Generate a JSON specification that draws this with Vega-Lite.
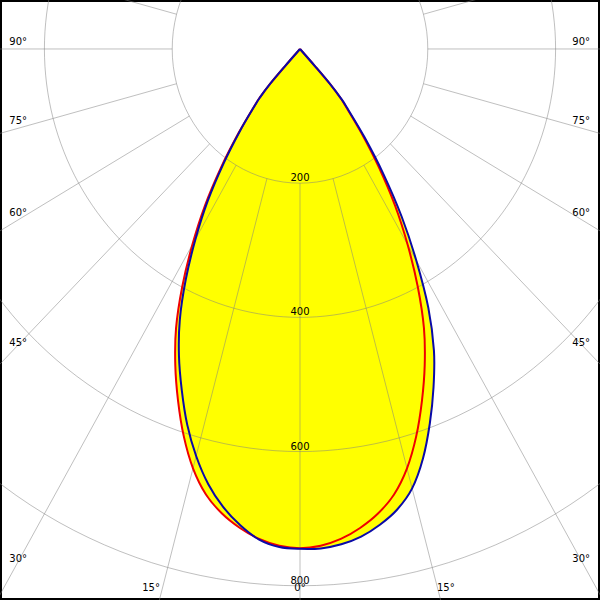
{
  "$schema": "https://vega.github.io/schema/vega-lite/v6.json",
  "width": 600,
  "height": 600,
  "autosize": {"type": "none"},
  "padding": 0,
  "background": "white",
  "config": {"view": {"stroke": "black", "strokeWidth": 4}},
  "datasets": {
    "curves": [
      {"p": "C0-C180", "a": -43, "I": 0}, {"p": "C0-C180", "a": -42.5, "I": 35}, {"p": "C0-C180", "a": -42, "I": 70}, {"p": "C0-C180", "a": -41, "I": 96}, {"p": "C0-C180", "a": -40, "I": 111}, {"p": "C0-C180", "a": -37.5, "I": 158}, {"p": "C0-C180", "a": -35, "I": 215}, {"p": "C0-C180", "a": -32.5, "I": 277}, {"p": "C0-C180", "a": -30, "I": 337}, {"p": "C0-C180", "a": -27.5, "I": 399}, {"p": "C0-C180", "a": -25, "I": 459}, {"p": "C0-C180", "a": -22.5, "I": 510}, {"p": "C0-C180", "a": -20, "I": 558}, {"p": "C0-C180", "a": -17.5, "I": 605}, {"p": "C0-C180", "a": -15, "I": 647}, {"p": "C0-C180", "a": -12.5, "I": 680}, {"p": "C0-C180", "a": -10, "I": 703}, {"p": "C0-C180", "a": -7.5, "I": 720}, {"p": "C0-C180", "a": -5, "I": 733}, {"p": "C0-C180", "a": -2.5, "I": 741}, {"p": "C0-C180", "a": 0, "I": 744},
      {"p": "C0-C180", "a": 2.5, "I": 741}, {"p": "C0-C180", "a": 5, "I": 733}, {"p": "C0-C180", "a": 7.5, "I": 720}, {"p": "C0-C180", "a": 10, "I": 703}, {"p": "C0-C180", "a": 12.5, "I": 680}, {"p": "C0-C180", "a": 15, "I": 647}, {"p": "C0-C180", "a": 17.5, "I": 605}, {"p": "C0-C180", "a": 20, "I": 558}, {"p": "C0-C180", "a": 22.5, "I": 510}, {"p": "C0-C180", "a": 25, "I": 459}, {"p": "C0-C180", "a": 27.5, "I": 399}, {"p": "C0-C180", "a": 30, "I": 337}, {"p": "C0-C180", "a": 32.5, "I": 277}, {"p": "C0-C180", "a": 35, "I": 215}, {"p": "C0-C180", "a": 37.5, "I": 158}, {"p": "C0-C180", "a": 40, "I": 111}, {"p": "C0-C180", "a": 41, "I": 96}, {"p": "C0-C180", "a": 42, "I": 70}, {"p": "C0-C180", "a": 42.5, "I": 35}, {"p": "C0-C180", "a": 43, "I": 0},
      {"p": "C90-C270", "a": -43, "I": 0}, {"p": "C90-C270", "a": -42.5, "I": 35}, {"p": "C90-C270", "a": -42, "I": 70}, {"p": "C90-C270", "a": -41, "I": 95}, {"p": "C90-C270", "a": -40, "I": 110}, {"p": "C90-C270", "a": -37.5, "I": 155}, {"p": "C90-C270", "a": -35, "I": 209}, {"p": "C90-C270", "a": -32.5, "I": 269}, {"p": "C90-C270", "a": -30, "I": 327}, {"p": "C90-C270", "a": -27.5, "I": 387}, {"p": "C90-C270", "a": -25, "I": 445}, {"p": "C90-C270", "a": -22.5, "I": 495}, {"p": "C90-C270", "a": -20, "I": 541}, {"p": "C90-C270", "a": -17.5, "I": 587}, {"p": "C90-C270", "a": -15, "I": 628}, {"p": "C90-C270", "a": -12.5, "I": 664}, {"p": "C90-C270", "a": -10, "I": 693}, {"p": "C90-C270", "a": -7.5, "I": 716}, {"p": "C90-C270", "a": -5, "I": 734}, {"p": "C90-C270", "a": -2.5, "I": 743}, {"p": "C90-C270", "a": 0, "I": 745},
      {"p": "C90-C270", "a": 2.5, "I": 745}, {"p": "C90-C270", "a": 5, "I": 741}, {"p": "C90-C270", "a": 7.5, "I": 733}, {"p": "C90-C270", "a": 10, "I": 720}, {"p": "C90-C270", "a": 12.5, "I": 703}, {"p": "C90-C270", "a": 15, "I": 678}, {"p": "C90-C270", "a": 17.5, "I": 640}, {"p": "C90-C270", "a": 20, "I": 594}, {"p": "C90-C270", "a": 22.5, "I": 546}, {"p": "C90-C270", "a": 25, "I": 496}, {"p": "C90-C270", "a": 27.5, "I": 435}, {"p": "C90-C270", "a": 30, "I": 364}, {"p": "C90-C270", "a": 32.5, "I": 296}, {"p": "C90-C270", "a": 35, "I": 228}, {"p": "C90-C270", "a": 37.5, "I": 166}, {"p": "C90-C270", "a": 40, "I": 115}, {"p": "C90-C270", "a": 41, "I": 99}, {"p": "C90-C270", "a": 42, "I": 71}, {"p": "C90-C270", "a": 42.5, "I": 36}, {"p": "C90-C270", "a": 43, "I": 0}
    ],
    "angles": [
      {"a": 0, "rs": [200, 400, 600, 800]}, {"a": 15, "rs": [200, 400, 600, 800]}, {"a": 30, "rs": [200, 400, 600, 800]}, {"a": 45, "rs": [200, 400, 600, 800]}, {"a": 60, "rs": [200, 400, 600, 800]}, {"a": 75, "rs": [200, 400, 600, 800]}, {"a": 90, "rs": [200, 400, 600, 800]}, {"a": 105, "rs": [200, 400, 600, 800]}, {"a": 120, "rs": [200, 400, 600, 800]}, {"a": 135, "rs": [200, 400, 600, 800]}, {"a": 150, "rs": [200, 400, 600, 800]}, {"a": 165, "rs": [200, 400, 600, 800]}, {"a": 180, "rs": [200, 400, 600, 800]}, {"a": 195, "rs": [200, 400, 600, 800]}, {"a": 210, "rs": [200, 400, 600, 800]}, {"a": 225, "rs": [200, 400, 600, 800]}, {"a": 240, "rs": [200, 400, 600, 800]}, {"a": 255, "rs": [200, 400, 600, 800]}, {"a": 270, "rs": [200, 400, 600, 800]}, {"a": 285, "rs": [200, 400, 600, 800]}, {"a": 300, "rs": [200, 400, 600, 800]}, {"a": 315, "rs": [200, 400, 600, 800]}, {"a": 330, "rs": [200, 400, 600, 800]}, {"a": 345, "rs": [200, 400, 600, 800]}
    ],
    "rings": [
      {"t": "200", "v": 200}, {"t": "400", "v": 400}, {"t": "600", "v": 600}, {"t": "800", "v": 800}
    ],
    "angleLabels": [
      {"t": "90°", "a": -90}, {"t": "75°", "a": -75}, {"t": "60°", "a": -60}, {"t": "45°", "a": -45}, {"t": "30°", "a": -30}, {"t": "15°", "a": -15}, {"t": "0°", "a": 0}, {"t": "15°", "a": 15}, {"t": "30°", "a": 30}, {"t": "45°", "a": 45}, {"t": "60°", "a": 60}, {"t": "75°", "a": 75}, {"t": "90°", "a": 90}
    ]
  },
  "layer": [
    {
      "data": {"name": "curves"},
      "transform": [
        {"calculate": "datum.I * sin(datum.a * PI / 180)", "as": "x"},
        {"calculate": "datum.I * cos(datum.a * PI / 180)", "as": "y"}
      ],
      "mark": {"type": "line", "filled": true, "fill": "#ffff00", "strokeWidth": 0, "interpolate": "cardinal", "clip": true},
      "encoding": {
        "x": {"field": "x", "type": "quantitative", "scale": {"domain": [-469.5, 469.5], "nice": false, "zero": false}, "axis": null},
        "y": {"field": "y", "type": "quantitative", "scale": {"domain": [-73, 821.2], "reverse": true, "nice": false, "zero": false}, "axis": null},
        "detail": {"field": "p"},
        "order": {"field": "a", "type": "quantitative"}
      }
    },
    {
      "data": {"name": "angles"},
      "transform": [
        {"flatten": ["rs"], "as": ["r"]},
        {"calculate": "datum.r * sin(datum.a * PI / 180)", "as": "x"},
        {"calculate": "datum.r * cos(datum.a * PI / 180)", "as": "y"}
      ],
      "mark": {"type": "line", "interpolate": "cardinal-closed", "stroke": "#808080", "strokeOpacity": 0.5, "strokeWidth": 1, "clip": true},
      "encoding": {
        "x": {"field": "x", "type": "quantitative", "scale": {"domain": [-469.5, 469.5], "nice": false, "zero": false}, "axis": null},
        "y": {"field": "y", "type": "quantitative", "scale": {"domain": [-73, 821.2], "reverse": true, "nice": false, "zero": false}, "axis": null},
        "detail": {"field": "r"},
        "order": {"field": "a", "type": "quantitative"}
      }
    },
    {
      "data": {"name": "angles"},
      "transform": [
        {"calculate": "200 * sin(datum.a * PI / 180)", "as": "x"},
        {"calculate": "200 * cos(datum.a * PI / 180)", "as": "y"},
        {"calculate": "1400 * sin(datum.a * PI / 180)", "as": "x2"},
        {"calculate": "1400 * cos(datum.a * PI / 180)", "as": "y2"}
      ],
      "mark": {"type": "rule", "stroke": "#808080", "strokeOpacity": 0.5, "strokeWidth": 1, "clip": true},
      "encoding": {
        "x": {"field": "x", "type": "quantitative", "scale": {"domain": [-469.5, 469.5], "nice": false, "zero": false}, "axis": null},
        "y": {"field": "y", "type": "quantitative", "scale": {"domain": [-73, 821.2], "reverse": true, "nice": false, "zero": false}, "axis": null},
        "x2": {"field": "x2"},
        "y2": {"field": "y2"}
      }
    },
    {
      "data": {"name": "curves"},
      "transform": [
        {"calculate": "datum.I * sin(datum.a * PI / 180)", "as": "x"},
        {"calculate": "datum.I * cos(datum.a * PI / 180)", "as": "y"}
      ],
      "mark": {"type": "line", "strokeWidth": 2, "interpolate": "cardinal", "clip": true},
      "encoding": {
        "x": {"field": "x", "type": "quantitative", "scale": {"domain": [-469.5, 469.5], "nice": false, "zero": false}, "axis": null},
        "y": {"field": "y", "type": "quantitative", "scale": {"domain": [-73, 821.2], "reverse": true, "nice": false, "zero": false}, "axis": null},
        "color": {"field": "p", "type": "nominal", "scale": {"domain": ["C0-C180", "C90-C270"], "range": ["#f00000", "#0a0aa8"]}, "legend": null},
        "order": {"field": "a", "type": "quantitative"}
      }
    },
    {
      "data": {"name": "rings"},
      "mark": {"type": "text", "font": "DejaVu Sans", "fontSize": 10, "color": "black", "align": "center", "baseline": "alphabetic", "dy": -2},
      "encoding": {
        "x": {"datum": 0, "type": "quantitative", "scale": {"domain": [-469.5, 469.5], "nice": false, "zero": false}, "axis": null},
        "y": {"field": "v", "type": "quantitative", "scale": {"domain": [-73, 821.2], "reverse": true, "nice": false, "zero": false}, "axis": null},
        "text": {"field": "t"}
      }
    },
    {
      "data": {"name": "angleLabels"},
      "transform": [
        {"calculate": "abs(datum.a) >= 30 ? (datum.a < 0 ? -441 : 440) : 803 * tan(datum.a * PI / 180) + (datum.a < 0 ? -18 : (datum.a > 0 ? 13 : 0))", "as": "lx"},
        {"calculate": "abs(datum.a) >= 30 ? 440 / tan(abs(datum.a) * PI / 180) - (abs(datum.a) >= 60 ? 10 : 2) : 803", "as": "ly"}
      ],
      "mark": {"type": "text", "font": "DejaVu Sans", "fontSize": 10, "color": "black", "align": "center", "baseline": "middle"},
      "encoding": {
        "x": {"field": "lx", "type": "quantitative", "scale": {"domain": [-469.5, 469.5], "nice": false, "zero": false}, "axis": null},
        "y": {"field": "ly", "type": "quantitative", "scale": {"domain": [-73, 821.2], "reverse": true, "nice": false, "zero": false}, "axis": null},
        "text": {"field": "t"}
      }
    }
  ]
}
